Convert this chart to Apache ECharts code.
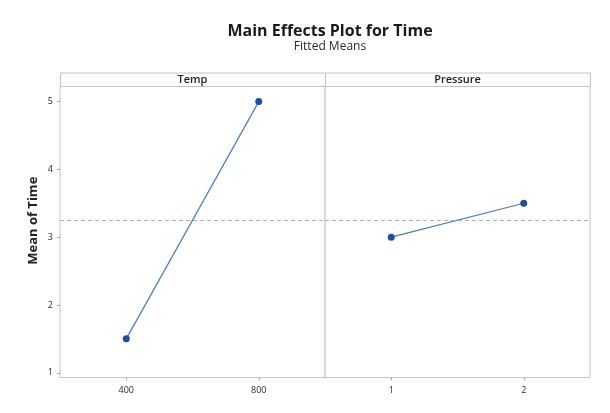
<!DOCTYPE html>
<html>
<head>
<meta charset="utf-8">
<title>Main Effects Plot for Time</title>
<script src="https://cdn.jsdelivr.net/npm/echarts@6/dist/echarts.min.js"></script>
<style>
  html, body { margin: 0; padding: 0; background: #ffffff; }
  #chart { width: 610px; height: 413px; }
</style>
</head>
<body>
<div id="chart"></div>
<script>
// Factor levels and fitted means
const tempLevels = [400, 800];
const tempMeans = [1.5, 5.0];
const pressureLevels = [1, 2];
const pressureMeans = [3.0, 3.5];
const grandMean = 3.25;
const yTickValues = [1, 2, 3, 4, 5];
const panelNames = ['Temp', 'Pressure'];

const FONT = '"Open Sans", "Noto Sans", sans-serif';
const frameColor = '#c4c4c4';
const lineBlue = '#4a7cc6';
const dotBlue = '#1d4f9f';

const chart = echarts.init(document.getElementById('chart'), null, { renderer: 'canvas' });

// Panel geometry
const panelTop = 86, panelH = 291.5, panelW = 265;
const panelLeft = [60, 325];
const stripTop = 72.5, stripH = 13.5;

function panelGrid(i) {
  return {
    left: panelLeft[i], top: panelTop, width: panelW, height: panelH,
    show: true, borderColor: frameColor, borderWidth: 1, backgroundColor: '#ffffff'
  };
}

function xAxisFor(i, min, max, ticks) {
  return {
    type: 'value', gridIndex: i, min: min, max: max,
    axisLine: { show: false },
    splitLine: { show: false },
    axisTick: { show: true, customValues: ticks, length: 3, lineStyle: { color: '#a8a8a8' } },
    axisLabel: { show: true, customValues: ticks, color: '#2a2a2a', fontFamily: FONT, fontSize: 9, margin: 8 }
  };
}

function yAxisFor(i) {
  const base = {
    type: 'value', gridIndex: i, min: 0.93, max: 5.23,
    axisLine: { show: false },
    splitLine: { show: false },
    axisTick: { show: i === 0, customValues: yTickValues, length: 3, lineStyle: { color: '#a8a8a8' } },
    axisLabel: { show: i === 0, customValues: yTickValues, color: '#2a2a2a', fontFamily: FONT, fontSize: 9, margin: 7 }
  };
  if (i === 0) {
    base.name = 'Mean of Time';
    base.nameLocation = 'middle';
    base.nameGap = 20;
    base.nameTextStyle = { color: '#222', fontFamily: FONT, fontSize: 13, fontWeight: 'bold', padding: [0, 0, 0, 22] };
  }
  return base;
}

const refLine = {
  silent: true, symbol: 'none', label: { show: false },
  lineStyle: { type: [4, 3], color: '#b0b0b0', width: 1 },
  data: [{ yAxis: grandMean }]
};

function effectSeries(i, levels, means) {
  return {
    type: 'line', xAxisIndex: i, yAxisIndex: i,
    data: levels.map((x, k) => [x, means[k]]),
    symbol: 'circle', symbolSize: 7,
    lineStyle: { color: lineBlue, width: 1.2 },
    itemStyle: { color: dotBlue },
    markLine: refLine,
    z: 3
  };
}

// Strip headers above each panel
const strips = [];
panelNames.forEach((name, i) => {
  strips.push({
    type: 'rect',
    shape: { x: panelLeft[i] + 0.5, y: stripTop + 0.5, width: panelW, height: stripH },
    style: { fill: '#ffffff', stroke: frameColor, lineWidth: 1 },
    silent: true
  });
  strips.push({
    type: 'text',
    x: panelLeft[i] + panelW / 2, y: stripTop + stripH / 2 + 0.5,
    style: {
      text: name, fill: '#222', font: '600 11px ' + FONT,
      align: 'center', verticalAlign: 'middle'
    },
    silent: true
  });
});

chart.setOption({
  animation: false,
  backgroundColor: '#ffffff',
  title: {
    text: 'Main Effects Plot for Time',
    subtext: 'Fitted Means',
    left: 325, top: 18, textAlign: 'center', itemGap: 2,
    textStyle: { color: '#1a1a1a', fontFamily: FONT, fontSize: 16, fontWeight: 'bold' },
    subtextStyle: { color: '#2a2a2a', fontFamily: FONT, fontSize: 12 }
  },
  grid: [panelGrid(0), panelGrid(1)],
  xAxis: [
    xAxisFor(0, 200, 1000, tempLevels),
    xAxisFor(1, 0.5, 2.5, pressureLevels)
  ],
  yAxis: [yAxisFor(0), yAxisFor(1)],
  series: [
    effectSeries(0, tempLevels, tempMeans),
    effectSeries(1, pressureLevels, pressureMeans)
  ],
  graphic: strips
});
</script>
</body>
</html>
